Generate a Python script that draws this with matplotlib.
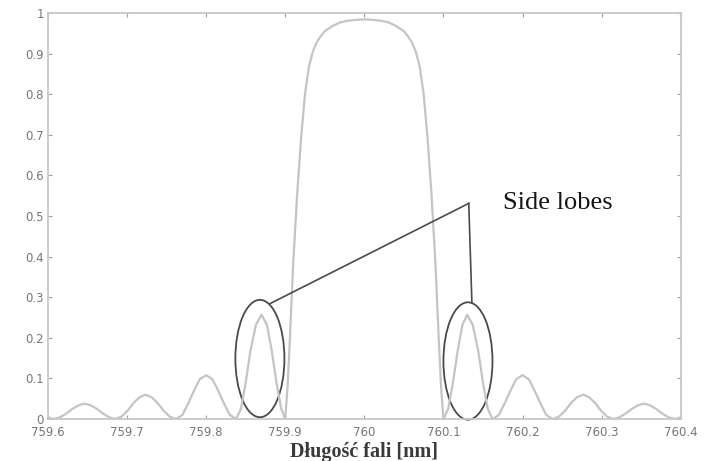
"""
Widmo odbiciowe siatki Bragga z zaznaczonymi listkami bocznymi.
    python3 plot.py
Zapisuje out.png.
"""

import matplotlib
matplotlib.use("Agg")
import matplotlib.pyplot as plt
from matplotlib.patches import Ellipse

# listki boczne po lewej (odczyt z wykresu)
left_nm = [759.600, 759.607, 759.615, 759.623, 759.631, 759.639, 759.646, 759.654, 759.662, 759.670, 759.678, 759.685,
           759.693, 759.701, 759.708, 759.716, 759.723, 759.731, 759.739, 759.746, 759.754, 759.762,
           759.770, 759.777, 759.785, 759.792, 759.800, 759.808, 759.815, 759.823, 759.830, 759.838,
           759.844, 759.850, 759.856, 759.863, 759.870, 759.877, 759.883, 759.889, 759.895, 759.900]
left_r = [0.004, 0.000, 0.004, 0.013, 0.025, 0.034, 0.038, 0.034, 0.025, 0.013, 0.004, 0.000,
          0.006, 0.021, 0.039, 0.054, 0.060, 0.054, 0.039, 0.021, 0.006, 0.000,
          0.010, 0.037, 0.071, 0.098, 0.108, 0.098, 0.071, 0.037, 0.010, 0.000,
          0.025, 0.089, 0.168, 0.232, 0.257, 0.232, 0.168, 0.089, 0.025, 0.000]

# główny listek
main_nm = [759.903, 759.906, 759.910, 759.915, 759.920, 759.925, 759.930, 759.935, 759.940, 759.945, 759.950,
           759.960, 759.970, 759.980, 759.990, 760.000, 760.010, 760.020, 760.030, 760.040,
           760.050, 760.055, 760.060, 760.065, 760.070, 760.075, 760.080, 760.085, 760.090, 760.094, 760.097]
main_r = [0.080, 0.200, 0.380, 0.550, 0.690, 0.800, 0.868, 0.905, 0.928, 0.943, 0.955,
          0.968, 0.977, 0.981, 0.983, 0.984, 0.983, 0.981, 0.977, 0.968,
          0.955, 0.943, 0.928, 0.905, 0.868, 0.800, 0.690, 0.550, 0.380, 0.200, 0.080]

# listki boczne po prawej
right_nm = [760.100, 760.106, 760.112, 760.118, 760.124, 760.130, 760.137, 760.144, 760.150, 760.156, 760.162,
            760.170, 760.177, 760.185, 760.192, 760.200, 760.208, 760.215, 760.223, 760.230, 760.238,
            760.246, 760.254, 760.261, 760.269, 760.277, 760.284, 760.292, 760.299, 760.307, 760.315,
            760.322, 760.330, 760.338, 760.346, 760.354, 760.361, 760.369, 760.377, 760.385, 760.393, 760.400]
right_r = [0.000, 0.025, 0.089, 0.168, 0.232, 0.257, 0.232, 0.168, 0.089, 0.025, 0.000,
           0.010, 0.037, 0.071, 0.098, 0.108, 0.098, 0.071, 0.037, 0.010, 0.000,
           0.006, 0.021, 0.039, 0.054, 0.060, 0.054, 0.039, 0.021, 0.006, 0.000,
           0.004, 0.013, 0.025, 0.034, 0.038, 0.034, 0.025, 0.013, 0.004, 0.000, 0.004]

xticks = [759.6, 759.7, 759.8, 759.9, 760.0, 760.1, 760.2, 760.3, 760.4]
xtick_labels = ["759.6", "759.7", "759.8", "759.9", "760", "760.1", "760.2", "760.3", "760.4"]
yticks = [0, 0.1, 0.2, 0.3, 0.4, 0.5, 0.6, 0.7, 0.8, 0.9, 1.0]
ytick_labels = ["0", "0.1", "0.2", "0.3", "0.4", "0.5", "0.6", "0.7", "0.8", "0.9", "1"]

# zaznaczenie: środki elips i punkt zbiegu linii
lobe_marks = [(759.868, 0.149), (760.131, 0.143)]
apex = (760.132, 0.531)


def main():
    fig = plt.figure(figsize=(7.04, 4.61), dpi=100)
    ax = fig.add_axes([0.068, 0.091, 0.899, 0.881])

    wl = left_nm + main_nm + right_nm
    refl = left_r + main_r + right_r
    ax.plot(wl, refl, color="#c4c4c4", lw=1.6)

    ax.set_xlim(759.6, 760.4)
    ax.set_ylim(0, 1)
    ax.set_xticks(xticks, xtick_labels)
    ax.set_yticks(yticks, ytick_labels)
    ax.tick_params(direction="in", length=3, width=0.8, color="#a0a0a0",
                   labelcolor="#777777", labelsize=8.5, top=True, right=True)
    ax.tick_params(axis="x", pad=5)
    ax.tick_params(axis="y", pad=3)
    for sp in ax.spines.values():
        sp.set_color("#c8c8c8")
        sp.set_linewidth(1.3)

    # elipsy wokół listków bocznych
    for (cx, cy) in lobe_marks:
        ax.add_patch(Ellipse((cx, cy), 0.062, 0.289, fill=False,
                             ec="#4a4a4a", lw=1.3, clip_on=False))
    ax.plot([759.8806, apex[0]], [0.284, apex[1]], color="#4a4a4a", lw=1.2)
    ax.plot([apex[0], 760.136], [apex[1], 0.286], color="#4a4a4a", lw=1.2)
    ax.text(760.175, 0.533, "Side lobes", family="Liberation Serif",
            fontsize=19, color="#151515", va="center", ha="left")

    ax.set_xlabel("Długość fali [nm]", family="Liberation Serif",
                  fontsize=14.5, fontweight="bold", color="#3a3a3a", labelpad=2)

    fig.savefig("out.png", dpi=100)


if __name__ == "__main__":
    main()
